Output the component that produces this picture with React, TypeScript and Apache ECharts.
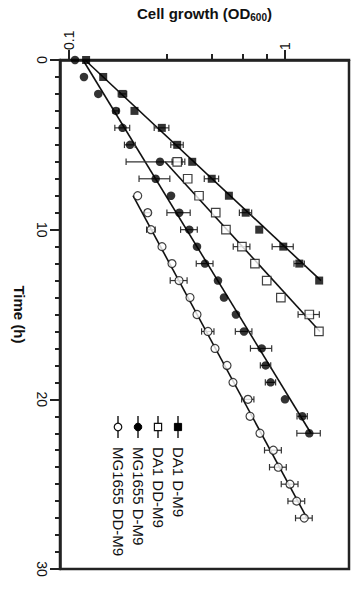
import React, { useEffect, useRef } from "react";
import * as echarts from "echarts";

// ---- Data ----
const seriesNames = ["DA1 D-M9", "DA1 DD-M9", "MG1655 D-M9", "MG1655 DD-M9"];

// DA1 D-M9 (filled squares)
const da1DTime = [0, 1, 2, 3, 4, 5, 6, 7, 8, 9, 10, 11, 12, 13];
const da1DOD = [0.12, 0.144, 0.177, 0.201, 0.269, 0.317, 0.372, 0.458, 0.55, 0.658, 0.76, 0.982, 1.165, 1.44];
const da1DErr = [0, 0, 0.008, 0, 0.021, 0.021, 0, 0.035, 0, 0.043, 0, 0.11, 0.064, 0];

// DA1 DD-M9 (open squares)
const da1DDTime = [6, 7, 8, 9, 10, 11, 12, 13, 14, 15, 16];
const da1DDOD = [0.317, 0.3545, 0.4, 0.478, 0.533, 0.632, 0.726, 0.823, 0.957, 1.296, 1.436];
const da1DDErr = [0.017, 0, 0, 0, 0, 0.056, 0, 0, 0, 0.146, 0];

// MG1655 D-M9 (filled circles)
const mgDTime = [0, 1, 2, 3, 4, 5, 6, 7, 8, 9, 10, 11, 12, 13, 14, 15, 16, 17, 18, 19, 20, 21, 22];
const mgDOD = [0.1066, 0.1173, 0.1366, 0.165, 0.177, 0.1916, 0.2638, 0.252, 0.2967, 0.324, 0.3606, 0.3914, 0.4263, 0.4895, 0.522, 0.593, 0.646, 0.78, 0.814, 0.858, 1.0, 1.203, 1.296];
const mgDErr = [0, 0, 0, 0.005, 0.014, 0.011, 0.08, 0.041, 0, 0.04, 0.032, 0, 0.038, 0, 0, 0, 0.057, 0.088, 0.045, 0.047, 0, 0.066, 0.161];

// MG1655 DD-M9 (open circles)
const mgDDTime = [8, 9, 10, 11, 12, 13, 14, 15, 16, 17, 18, 19, 20, 21, 22, 23, 24, 25, 26, 27];
const mgDDOD = [0.208, 0.2315, 0.2397, 0.2695, 0.2998, 0.3232, 0.3633, 0.3914, 0.44, 0.4743, 0.539, 0.5744, 0.674, 0.689, 0.766, 0.883, 0.931, 1.055, 1.133, 1.228];
const mgDDErr = [0, 0.007, 0.011, 0, 0, 0.029, 0, 0, 0.029, 0, 0, 0, 0.044, 0, 0, 0.079, 0.083, 0.094, 0.101, 0.109];

// Fit lines: [time, OD] end points
const fitDA1D = [[0, 0.1186], [13, 1.468]];
const fitDA1DD = [[6, 0.2783], [16, 1.452]];
const fitMGD = [[0, 0.1161], [22, 1.319]];
const fitMGDD = [[8, 0.1979], [27, 1.264]];

// Axis ticks
const odMajorTicks = [0.1, 1];
const odMinorTicks = [0.284, 0.459, 0.637, 0.824];
const odMin = 0.09085;
const odMax = 1.979;
const timeMin = 0;
const timeMax = 30;
const timeInterval = 10;

const FONT = "Liberation Sans, Arial, Helvetica, sans-serif";
const INK = "#111";
const AXIS = "#222";

const pts = (times: number[], ods: number[], errs?: number[]) =>
  times.map((t, i) => (errs ? [ods[i], t, errs[i]] : [ods[i], t]));

const fitPts = (f: number[][]) => f.map((p) => [p[1], p[0]]);

export default function App() {
  const ref = useRef<HTMLDivElement>(null);

  useEffect(() => {
    if (!ref.current) return;
    const chart = echarts.init(ref.current, undefined, { renderer: "svg" });

    const errRender = (params: any, api: any) => {
      const v = api.value(0);
      const t = api.value(1);
      const e = api.value(2);
      if (!e) return { type: "group", children: [] };
      const a = api.coord([v - e, t]);
      const b = api.coord([v + e, t]);
      const cap = 3.2;
      const style = { stroke: "#333", lineWidth: 1.2 };
      return {
        type: "group",
        children: [
          { type: "line", shape: { x1: a[0], y1: a[1], x2: b[0], y2: b[1] }, style },
          { type: "line", shape: { x1: a[0], y1: a[1] - cap, x2: a[0], y2: a[1] + cap }, style },
          { type: "line", shape: { x1: b[0], y1: b[1] - cap, x2: b[0], y2: b[1] + cap }, style },
        ],
      };
    };

    const groups = [
      { name: seriesNames[0], data: pts(da1DTime, da1DOD, da1DErr), fit: fitDA1D, symbol: "rect", filled: true, size: 8 },
      { name: seriesNames[1], data: pts(da1DDTime, da1DDOD, da1DDErr), fit: fitDA1DD, symbol: "rect", filled: false, size: 8.5 },
      { name: seriesNames[2], data: pts(mgDTime, mgDOD, mgDErr), fit: fitMGD, symbol: "circle", filled: true, size: 8.5 },
      { name: seriesNames[3], data: pts(mgDDTime, mgDDOD, mgDDErr), fit: fitMGDD, symbol: "circle", filled: false, size: 8 },
    ];

    const series: any[] = [];
    groups.forEach((g) => {
      series.push({
        type: "line",
        name: g.name + " fit",
        data: fitPts(g.fit),
        showSymbol: false,
        symbol: "none",
        lineStyle: { color: INK, width: 1.6 },
        z: 2,
        silent: true,
      });
      series.push({
        type: "custom",
        name: g.name + " err",
        data: g.data,
        encode: { x: 0, y: 1 },
        renderItem: errRender,
        z: 3,
        silent: true,
      });
      series.push({
        type: "scatter",
        name: g.name,
        data: g.data.map((d) => [d[0], d[1]]),
        symbol: g.symbol,
        symbolSize: g.size,
        itemStyle: g.filled
          ? { color: "#000" }
          : { color: "#fff", borderColor: INK, borderWidth: 1.2 },
        z: 4,
      });
    });

    const legendX = [178, 158, 138, 118];
    const legendGraphics = groups.map((g, i) => {
      const x = legendX[i];
      const markerStyle = g.filled
        ? { fill: "#000", stroke: "#000", lineWidth: 1 }
        : { fill: "#fff", stroke: INK, lineWidth: 1.2 };
      const marker =
        g.symbol === "rect"
          ? { type: "rect", shape: { x: x - 3.6, y: 423.4, width: 7.2, height: 7.2 }, style: markerStyle }
          : { type: "circle", shape: { cx: x, cy: 427, r: 3.8 }, style: markerStyle };
      return {
        type: "group",
        children: [
          { type: "line", shape: { x1: x, y1: 416, x2: x, y2: 438 }, style: { stroke: INK, lineWidth: 1.4 } },
          marker,
          {
            type: "text",
            x: x,
            y: 447,
            rotation: -Math.PI / 2,
            style: {
              text: g.name,
              fontSize: 15,
              fontFamily: FONT,
              fill: INK,
              align: "left",
              verticalAlign: "middle",
            },
          },
        ],
      };
    });

    chart.setOption({
      animation: false,
      backgroundColor: "#fff",
      grid: {
        left: 60,
        right: 6,
        top: 60,
        bottom: 21,
        show: true,
        borderColor: AXIS,
        borderWidth: 2.5,
        backgroundColor: "transparent",
      },
      xAxis: [
        {
          type: "log",
          position: "top",
          min: odMin,
          max: odMax,
          name: "{a|Cell growth (OD}{b|600}{a|)}",
          nameLocation: "middle",
          nameGap: 37,
          nameTextStyle: {
            rich: {
              a: { fontSize: 15, fontWeight: "bold", fontFamily: FONT, color: INK, lineHeight: 18 },
              b: { fontSize: 10, fontWeight: "bold", fontFamily: FONT, color: INK, lineHeight: 6, verticalAlign: "bottom" },
            },
          },
          axisLine: { show: true, onZero: false, lineStyle: { color: AXIS, width: 2.5 } },
          axisTick: { show: true, customValues: odMajorTicks, length: 10, lineStyle: { color: AXIS, width: 2 } },
          axisLabel: {
            show: true,
            customValues: odMajorTicks,
            rotate: -90,
            margin: 10,
            fontSize: 14,
            fontFamily: FONT,
            color: INK,
            formatter: (v: number) => String(v),
          },
          splitLine: { show: false },
          minorTick: { show: false },
        },
        {
          type: "log",
          position: "top",
          min: odMin,
          max: odMax,
          axisLine: { show: false },
          axisTick: { show: true, customValues: odMinorTicks, length: 6, lineStyle: { color: AXIS, width: 2 } },
          axisLabel: { show: false },
          splitLine: { show: false },
        },
      ],
      yAxis: {
        type: "value",
        inverse: true,
        min: timeMin,
        max: timeMax,
        interval: timeInterval,
        name: "Time (h)",
        nameLocation: "middle",
        nameRotate: -90,
        nameGap: 33,
        nameTextStyle: { fontSize: 15, fontWeight: "bold", fontFamily: FONT, color: INK },
        axisLine: { show: true, onZero: false, lineStyle: { color: AXIS, width: 2.5 } },
        axisTick: { show: true, length: 10, lineStyle: { color: AXIS, width: 2 } },
        minorTick: { show: true, splitNumber: 10, length: 5, lineStyle: { color: AXIS, width: 2 } },
        axisLabel: { rotate: -90, margin: 11, fontSize: 14, fontFamily: FONT, color: INK },
        splitLine: { show: false },
        minorSplitLine: { show: false },
      },
      series,
      graphic: legendGraphics,
    });

    return () => chart.dispose();
  }, []);

  return (
    <div
      ref={ref}
      style={{ position: "absolute", left: 0, top: 0, width: 355, height: 590, background: "#fff" }}
    />
  );
}
